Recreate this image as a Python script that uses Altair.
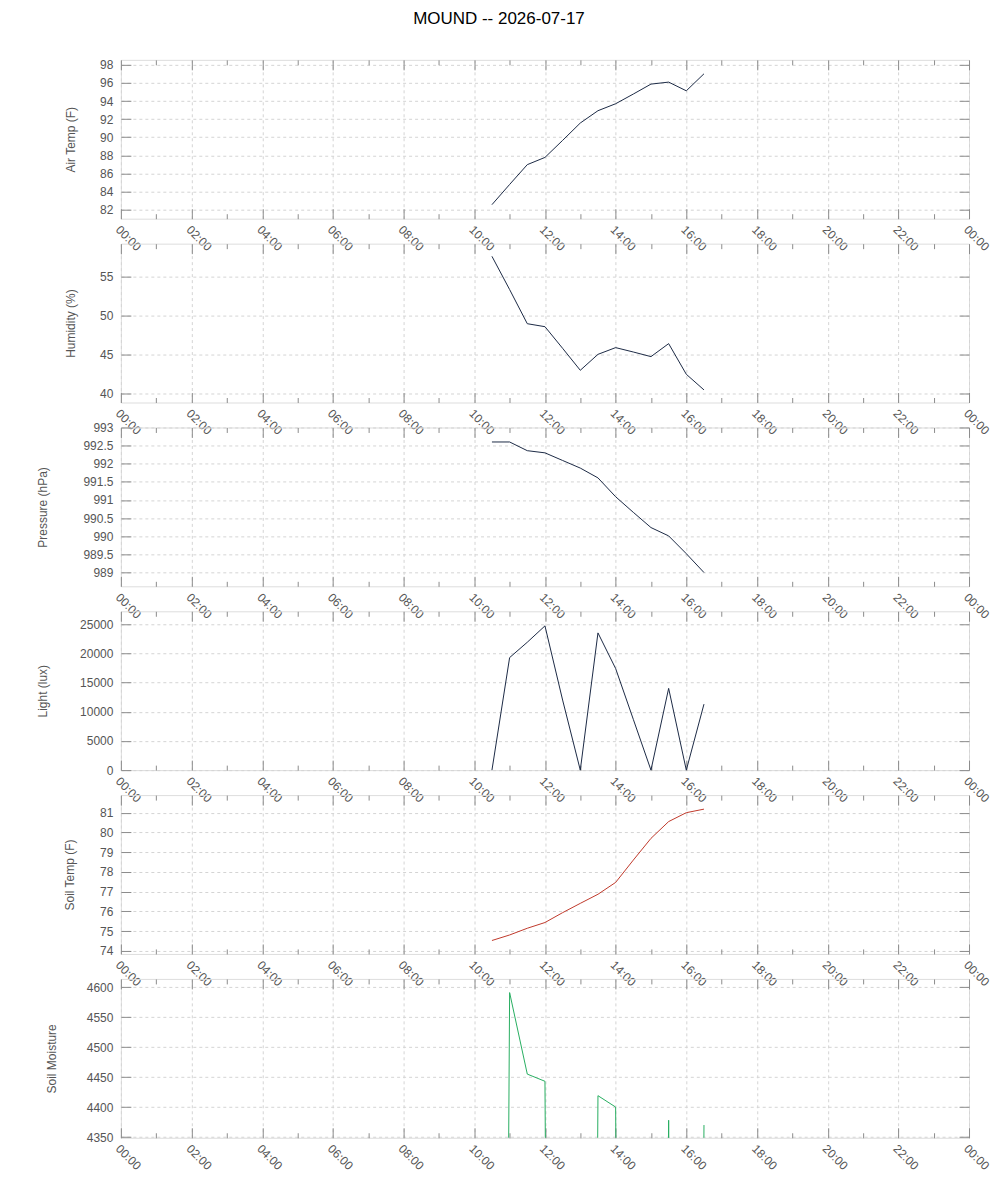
import altair as alt
import pandas as pd

times = ["10:30", "11:00", "11:30", "12:00", "12:30", "13:00", "13:30",
         "14:00", "14:30", "15:00", "15:30", "16:00", "16:30"]
air_temp = [82.55, 84.78, 86.97, 87.77, 89.65, 91.57, 92.93, 93.70, 94.77, 95.87, 96.09, 95.13, 97.01]
humidity = [57.55, 53.3, 48.93, 48.55, 45.78, 42.97, 45.01, 45.87, 45.31, 44.72, 46.38, 42.46, 40.46]
pressure = [992.6, 992.6, 992.36, 992.30, 992.09, 991.88, 991.61, 991.09, 990.66, 990.24, 990.01, 989.52, 989.0]
light = [0, 19270, 21900, 24700, 12000, 0, 23500, 17400, 8700, 0, 14000, 0, 11300]
soil_temp = [74.53, 74.81, 75.15, 75.44, 75.94, 76.41, 76.87, 77.47, 78.60, 79.70, 80.55, 81.0, 81.18]
soil_moist = [0, 4591, 4455, 4443, 0, 0, 4419, 4400, 0, 0, 4378, 0, 4370]

hours = [int(t[:2]) + int(t[3:]) / 60 for t in times]
df = pd.DataFrame({
    "hour": hours, "air": air_temp, "hum": humidity, "pres": pressure,
    "light": light, "stemp": soil_temp, "smoist": soil_moist,
})

W, H = 849, 159
major_x = list(range(0, 25, 2))
minor_x = list(range(1, 24, 2))

AX = "#8c8c8c"
LBL = "#555555"
GRID = "#d4d4d4"
FONT = "Liberation Sans"
XLABEL = "(datum.value % 24 < 10 ? '0' : '') + (datum.value % 24) + ':00'"


def panel(field, ytitle, color, domain, yticks, fmt, title_x, clip=False):
    xs = alt.Scale(domain=[0, 24], nice=False, zero=False)
    ys = alt.Scale(domain=domain, nice=False, zero=False)
    base = alt.Chart(df)
    main = base.mark_line(color=color, strokeWidth=1, clip=clip).encode(
        x=alt.X("hour:Q", scale=xs, axis=alt.Axis(
            values=major_x, labelExpr=XLABEL, labelAngle=45, labelAlign="left",
            labelBaseline="top", labelPadding=5, ticks=False, tickSize=0,
            domain=False, grid=True, gridColor=GRID, gridDash=[3, 3], title=None,
            labelColor=LBL, labelFontSize=12, labelFont=FONT, labelOverlap=False,
            labelFlush=False, labelBound=False)),
        y=alt.Y(f"{field}:Q", scale=ys, axis=alt.Axis(
            values=yticks, format=fmt, ticks=False, tickSize=0, domain=False,
            grid=True, gridColor=GRID, gridDash=[3, 3], labelPadding=8,
            labelColor=LBL, labelFontSize=12, labelFont=FONT, labelOverlap=False,
            labelFlush=False, title=ytitle, titleX=title_x, titleBaseline="middle",
            titleFontWeight="normal", titleColor=LBL, titleFontSize=12, titleFont=FONT)),
    )

    def ticks(xorient, xvals, xsize, yorient=None, yvals=None, ysize=None):
        enc = {"x": alt.X("hour:Q", scale=xs, axis=alt.Axis(
            orient=xorient, offset=-H, values=xvals, tickSize=xsize, ticks=True,
            tickColor=AX, tickWidth=1, labels=False, domain=False, grid=False, title=None))}
        if yorient:
            enc["y"] = alt.Y(f"{field}:Q", scale=ys, axis=alt.Axis(
                orient=yorient, offset=-W, values=yvals, tickSize=ysize, ticks=True,
                tickColor=AX, tickWidth=1, labels=False, domain=False, grid=False, title=None))
        else:
            enc["y"] = alt.Y(f"{field}:Q", scale=ys, axis=None)
        return base.mark_line(strokeOpacity=0).encode(**enc)

    layers = [
        main,
        ticks("top", major_x, 10, "right", yticks, 10),
        ticks("top", minor_x, 5, "left", yticks, 10),
        ticks("bottom", major_x, 10),
        ticks("bottom", minor_x, 5),
    ]
    return alt.layer(*layers).resolve_axis(x="independent", y="independent").properties(
        width=W, height=H)


panels = [
    panel("air", "Air Temp (F)", "#1c2a45", [81.0, 98.55], list(range(82, 99, 2)), "d", -50),
    panel("hum", "Humidity (%)", "#1c2a45", [38.85, 59.17], [40, 45, 50, 55], "d", -50),
    panel("pres", "Pressure (hPa)", "#1c2a45", [988.62, 993.0],
          [989, 989.5, 990, 990.5, 991, 991.5, 992, 992.5, 993], "~g", -78),
    panel("light", "Light (lux)", "#1c2a45", [0, 27200], list(range(0, 25001, 5000)), "d", -78),
    panel("stemp", "Soil Temp (F)", "#c0392b", [73.85, 81.89], list(range(74, 82)), "d", -51),
    panel("smoist", "Soil Moisture", "#27ae60", [4348.8, 4613.8],
          list(range(4350, 4601, 50)), "d", -69, clip=True),
]

chart = alt.vconcat(*panels, spacing=25, bounds="flush").properties(
    title=alt.TitleParams("MOUND -- 2026-07-17", fontSize=17, font=FONT,
                          fontWeight="normal", color="#000000", anchor="middle",
                          offset=30, dx=-15),
    padding={"left": 28, "top": 0, "right": 0, "bottom": 0},
).configure_view(stroke=AX, strokeWidth=1).configure(font=FONT)

chart.save("out.html", embed_options={"renderer": "svg", "actions": False})
